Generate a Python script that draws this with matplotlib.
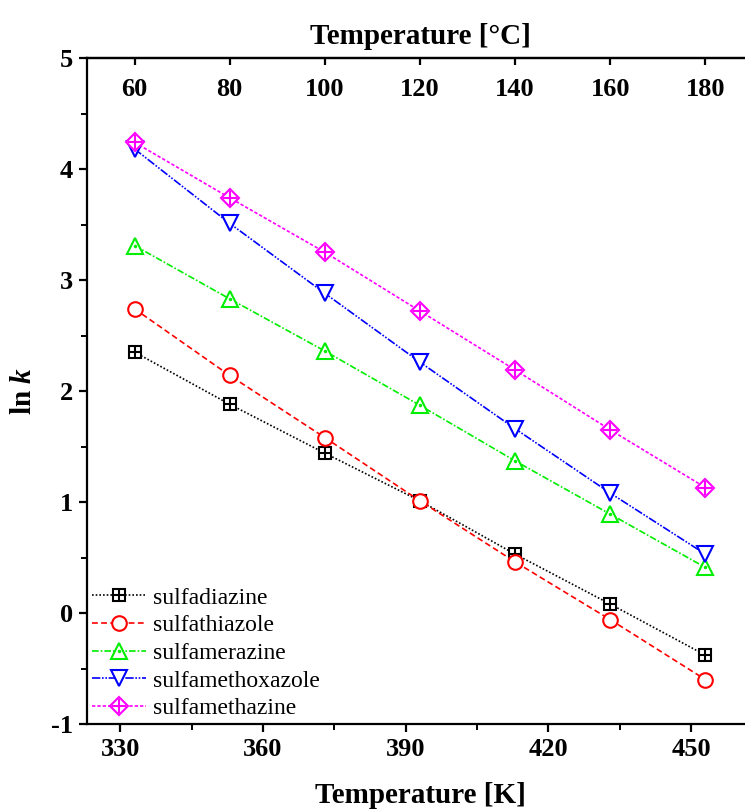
import matplotlib
matplotlib.use("Agg")
import matplotlib.pyplot as plt
from matplotlib.ticker import MultipleLocator, FixedLocator
from matplotlib.legend_handler import HandlerTuple

plt.rcParams['font.family'] = ['Liberation Serif', 'DejaVu Serif']
plt.rcParams['mathtext.fontset'] = 'custom'
plt.rcParams['mathtext.it'] = 'Liberation Serif:bold:italic'
plt.rcParams['mathtext.rm'] = 'Liberation Serif:bold'
plt.rcParams['axes.unicode_minus'] = False

temps_K = [333, 353, 373, 393, 413, 433, 453]
sulfadiazine = [2.35, 1.88, 1.44, 1.01, 0.53, 0.08, -0.38]
sulfathiazole = [2.74, 2.14, 1.58, 1.01, 0.46, -0.06, -0.60]
sulfamerazine = [3.31, 2.83, 2.36, 1.87, 1.37, 0.89, 0.41]
sulfamethoxazole = [4.18, 3.51, 2.88, 2.26, 1.66, 1.08, 0.53]
sulfamethazine = [4.24, 3.74, 3.25, 2.72, 2.19, 1.65, 1.13]
names = ['sulfadiazine', 'sulfathiazole', 'sulfamerazine', 'sulfamethoxazole', 'sulfamethazine']
celsius_ticks = [60, 80, 100, 120, 140, 160, 180]

W, H = 745, 809
fig = plt.figure(figsize=(W / 100, H / 100), dpi=100)
ax = fig.add_axes([87 / W, (H - 724) / H, (753 - 87) / W, (724 - 58) / H])

series = [sulfadiazine, sulfathiazole, sulfamerazine, sulfamethoxazole, sulfamethazine]
colors = ['black', '#FF0000', '#00EE00', '#0000FF', '#FF00FF']
markers = ['s', 'o', '^', 'v', 'D']
msizes = [8.5, 10.5, 11, 11, 9.5]
styles = [(0, (1, 1.2)), (0, (3.5, 2)), (0, (4, 1.2, 1, 1.2)), (0, (5, 1, 1, 1, 1, 1)), (0, (2, 1.2))]
overlay = ['+', None, '.', None, '+']
ov_size = [8.5, None, 2, None, 10]

handles = []
for i, ys in enumerate(series):
    ln, = ax.plot(temps_K, ys, color=colors[i], ls=styles[i], lw=1.2,
                  marker=markers[i], ms=msizes[i], mfc='white', mec=colors[i], mew=1.5)
    h = ln
    if overlay[i]:
        ov, = ax.plot(temps_K, ys, ls='none', marker=overlay[i], ms=ov_size[i],
                      color=colors[i], mew=1.5)
        h = (ln, ov)
    handles.append(h)

ax.set_xlim(323, 463)
ax.set_ylim(-1, 5)
ax.xaxis.set_major_locator(MultipleLocator(30))
ax.xaxis.set_minor_locator(MultipleLocator(15))
ax.yaxis.set_major_locator(MultipleLocator(1))
ax.yaxis.set_minor_locator(MultipleLocator(0.5))

for s in ['left', 'bottom', 'top']:
    ax.spines[s].set_linewidth(1.6)
ax.spines['right'].set_visible(False)

ax.tick_params(axis='both', which='major', direction='out', length=6, width=1.6,
               labelsize=19, pad=4)
ax.tick_params(axis='both', which='minor', direction='out', length=4, width=1.4)
ax.tick_params(axis='x', which='both', top=False)
for lbl in ax.get_xticklabels() + ax.get_yticklabels():
    lbl.set_fontweight('bold')

ax.set_xlabel('Temperature [K]', fontsize=21, fontweight='bold', labelpad=15)
ax.set_ylabel(r'ln $k$', fontsize=21, fontweight='bold', labelpad=10)

sec = ax.secondary_xaxis('top', functions=(lambda k: k - 273.0, lambda c: c + 273.0))
sec.xaxis.set_major_locator(FixedLocator(celsius_ticks))
sec.tick_params(axis='x', which='major', direction='in', length=5, width=1.6,
                labelsize=19, pad=-31)
sec.tick_params(axis='x', which='minor', length=0)
for lbl in sec.get_xticklabels():
    lbl.set_fontweight('bold')
sec.spines['top'].set_linewidth(1.6)
sec.set_xlabel('Temperature [°C]', fontsize=21, fontweight='bold', labelpad=10)

ax.legend(handles, names, loc='lower left', frameon=False, fontsize=17,
          handlelength=2.3, handletextpad=0.3, labelspacing=0.26,
          borderaxespad=0.0, borderpad=0.2,
          handler_map={tuple: HandlerTuple(ndivide=1, pad=0)})

fig.savefig('out.png', dpi=100)
